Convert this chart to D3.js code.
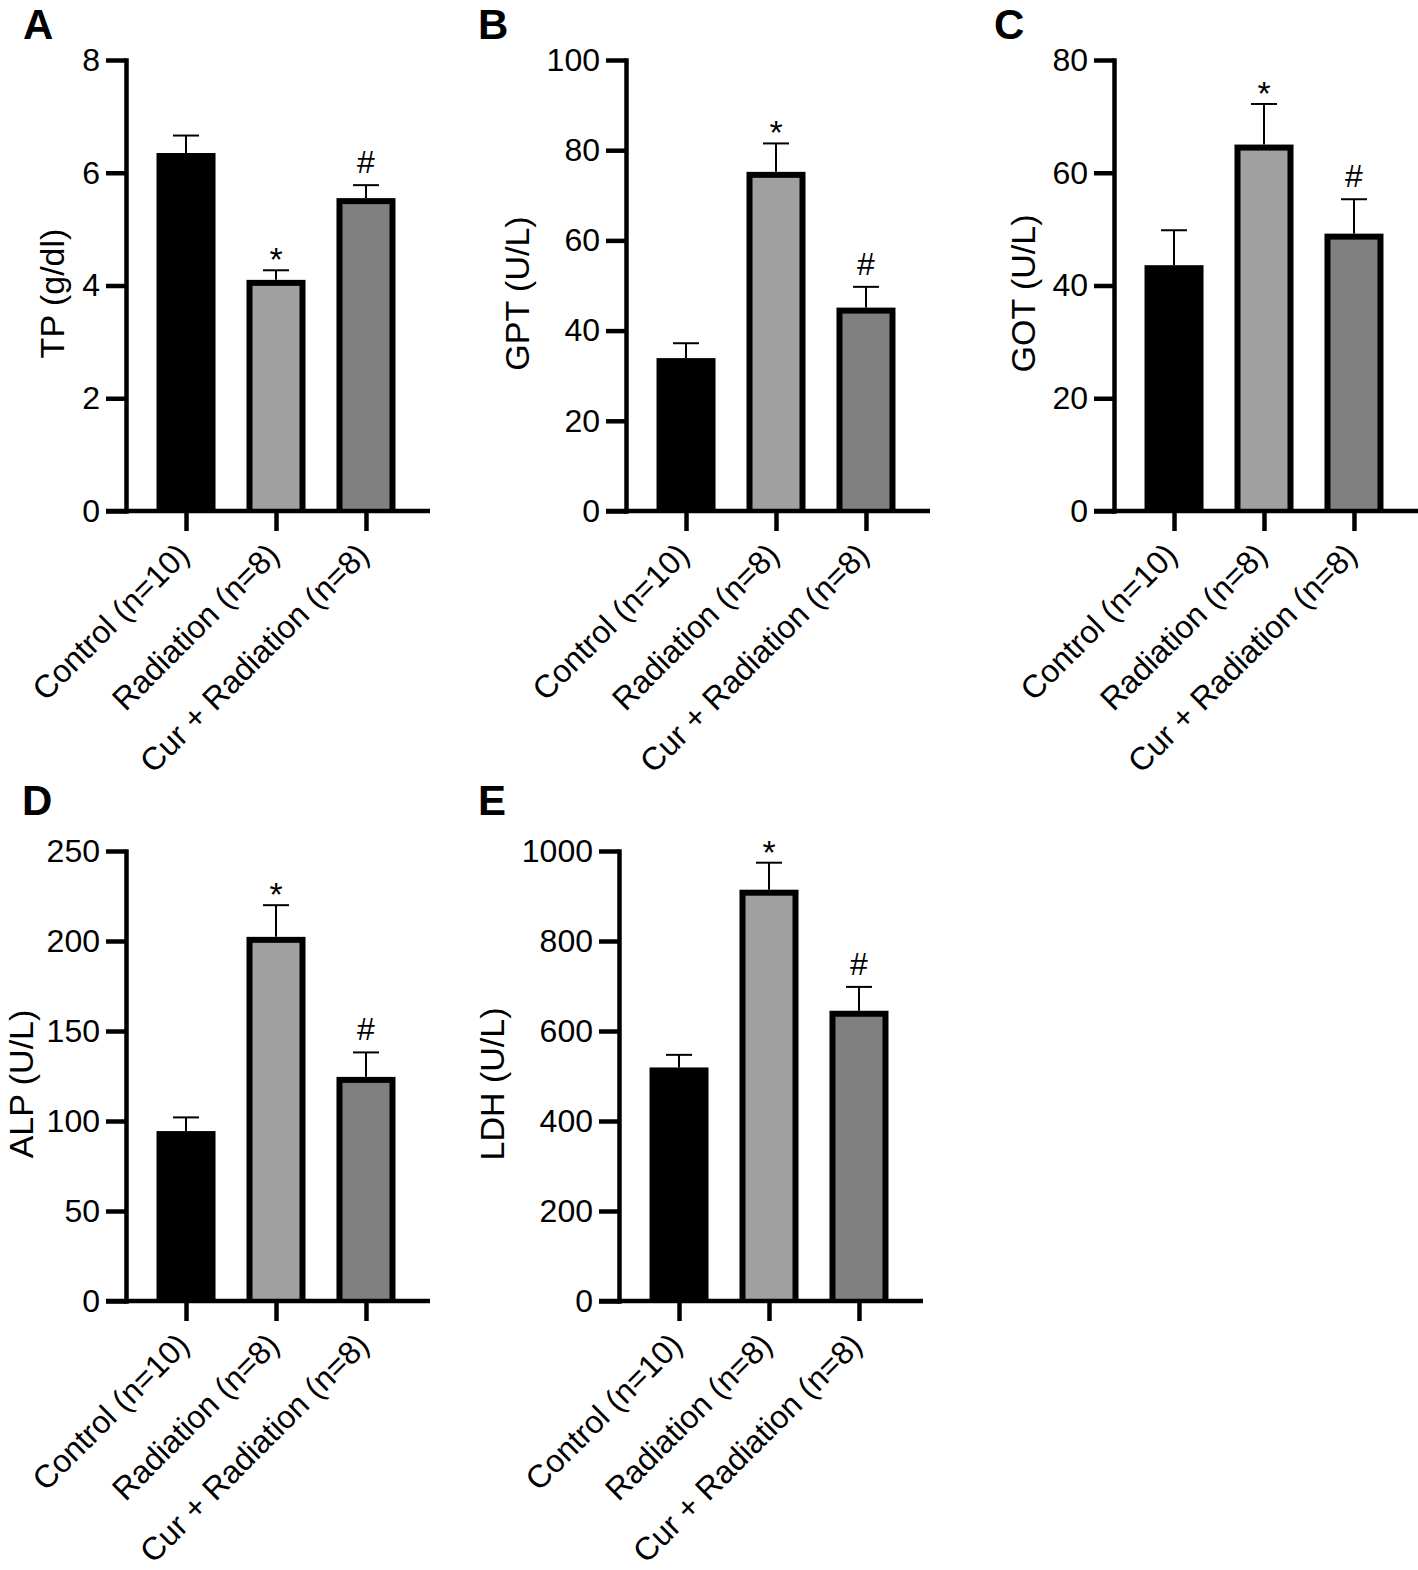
<!DOCTYPE html>
<html>
<head>
<meta charset="utf-8">
<script src="https://cdnjs.cloudflare.com/ajax/libs/d3/7.8.5/d3.min.js"></script>
<style>
  html, body { margin: 0; padding: 0; background: #fff; }
  svg { display: block; }
  text { font-family: "Liberation Sans", Arial, Helvetica, sans-serif; fill: #000; }
</style>
</head>
<body>
<div id="chart"></div>
<script>
// ---------- data ----------
const categories = ["Control (n=10)", "Radiation (n=8)", "Cur + Radiation (n=8)"];
const significance = ["", "*", "#"];

const tpMean  = [6.35, 4.10, 5.55];
const tpSem   = [0.31, 0.17, 0.23];
const tpTicks = [0, 2, 4, 6, 8];

const gptMean  = [33.9, 75.2, 45.1];
const gptSem   = [3.3, 6.3, 4.6];
const gptTicks = [0, 20, 40, 60, 80, 100];

const gotMean  = [43.6, 65.0, 49.2];
const gotSem   = [6.2, 7.2, 6.1];
const gotTicks = [0, 20, 40, 60, 80];

const alpMean  = [94.4, 202.3, 124.5];
const alpSem   = [7.6, 17.6, 13.6];
const alpTicks = [0, 50, 100, 150, 200, 250];

const ldhMean  = [519, 914, 645];
const ldhSem   = [28, 60, 53];
const ldhTicks = [0, 200, 400, 600, 800, 1000];

const panelLetters = ["A", "B", "C", "D", "E"];
const yTitles = ["TP (g/dl)", "GPT (U/L)", "GOT (U/L)", "ALP (U/L)", "LDH (U/L)"];

// ---------- layout ----------
const W = 1418, H = 1570;
const barFills = ["#000000", "#a0a0a0", "#808080"];
const layout = [
  { x0: 126,  yTop: 60,  y0: 511,  lx: 23,  ly: 39 },
  { x0: 626,  yTop: 60,  y0: 511,  lx: 478, ly: 39 },
  { x0: 1114, yTop: 60,  y0: 511,  lx: 994, ly: 39 },
  { x0: 126,  yTop: 851, y0: 1301, lx: 22,  ly: 815 },
  { x0: 619,  yTop: 851, y0: 1301, lx: 478, ly: 815 }
];
const panels = [
  { mean: tpMean,  sem: tpSem,  ticks: tpTicks },
  { mean: gptMean, sem: gptSem, ticks: gptTicks },
  { mean: gotMean, sem: gotSem, ticks: gotTicks },
  { mean: alpMean, sem: alpSem, ticks: alpTicks },
  { mean: ldhMean, sem: ldhSem, ticks: ldhTicks }
];

const svg = d3.select("#chart").append("svg")
  .attr("width", W).attr("height", H)
  .attr("viewBox", `0 0 ${W} ${H}`);

const AXW = 4.5, TICK = 20, BARW = 59, BORDER = 6, CAP = 26;

panels.forEach((p, k) => {
  const L = layout[k];
  const g = svg.append("g");
  const y = d3.scaleLinear().domain([0, d3.max(p.ticks)]).range([L.y0, L.yTop]);
  const x = d3.scalePoint().domain(categories).range([L.x0, L.x0 + 300]).padding(0.667);

  // bars
  categories.forEach((c, i) => {
    const cx = x(c), v = p.mean[i];
    const top = y(v);
    g.append("rect")
      .attr("x", cx - BARW / 2).attr("y", top)
      .attr("width", BARW).attr("height", L.y0 - top)
      .attr("fill", "#000");
    if (i > 0) {
      g.append("rect")
        .attr("x", cx - BARW / 2 + BORDER).attr("y", top + BORDER)
        .attr("width", BARW - 2 * BORDER).attr("height", Math.max(0, L.y0 - top - BORDER - 2))
        .attr("fill", barFills[i]);
    }
    // error bar (upper only)
    const et = y(v + p.sem[i]);
    g.append("line").attr("x1", cx).attr("x2", cx).attr("y1", top).attr("y2", et)
      .attr("stroke", "#000").attr("stroke-width", 2);
    g.append("line").attr("x1", cx - CAP / 2).attr("x2", cx + CAP / 2).attr("y1", et).attr("y2", et)
      .attr("stroke", "#000").attr("stroke-width", 2);
    // significance mark
    const s = significance[i];
    if (s) {
      g.append("text")
        .attr("x", cx).attr("y", s === "*" ? et + 1 : et - 12)
        .attr("text-anchor", "middle")
        .style("font-size", s === "*" ? "34px" : "32px")
        .text(s);
    }
  });

  // y axis
  const ya = g.append("g").attr("transform", `translate(${L.x0},0)`)
    .call(d3.axisLeft(y).tickValues(p.ticks).tickSize(TICK).tickPadding(6).tickSizeOuter(0).tickFormat(d3.format("d")));
  ya.select(".domain").attr("stroke", "#000").attr("stroke-width", AXW).attr("stroke-linecap", "square");
  ya.selectAll(".tick line").attr("stroke", "#000").attr("stroke-width", AXW);
  ya.selectAll(".tick text").style("font-size", "32px").style("font-family", "'Liberation Sans', Arial, sans-serif").attr("fill", "#000");

  // x axis line
  g.append("line").attr("x1", L.x0 - TICK).attr("x2", L.x0 + 304)
    .attr("y1", L.y0).attr("y2", L.y0).attr("stroke", "#000").attr("stroke-width", AXW);
  const xa = g.append("g").attr("transform", `translate(0,${L.y0})`)
    .call(d3.axisBottom(x).tickSize(TICK).tickSizeOuter(0).tickFormat(""));
  xa.select(".domain").remove();
  xa.selectAll(".tick line").attr("stroke", "#000").attr("stroke-width", AXW);

  // category labels
  categories.forEach((c) => {
    const ax = x(c) - 3, ay = L.y0 + 38;
    g.append("text")
      .attr("transform", `translate(${ax},${ay}) rotate(-45)`)
      .attr("text-anchor", "end")
      .attr("dy", "0.35em")
      .style("font-size", "32px")
      .text(c);
  });

  // y title placed left of widest tick label (kept inside the page)
  let maxW = 0;
  ya.selectAll(".tick text").each(function () { maxW = Math.max(maxW, this.getBBox().width); });
  const tx = Math.max(23, L.x0 - TICK - 6 - maxW - 28);
  const ty = (L.y0 + L.yTop) / 2 + 8;
  g.append("text")
    .attr("transform", `translate(${tx},${ty}) rotate(-90)`)
    .attr("text-anchor", "middle")
    .attr("dy", "0.3em")
    .style("font-size", "34px")
    .text(yTitles[k]);

  // panel letter
  g.append("text")
    .attr("x", L.lx).attr("y", L.ly)
    .style("font-size", "42px").style("font-weight", "bold")
    .text(panelLetters[k]);
});
</script>
</body>
</html>
